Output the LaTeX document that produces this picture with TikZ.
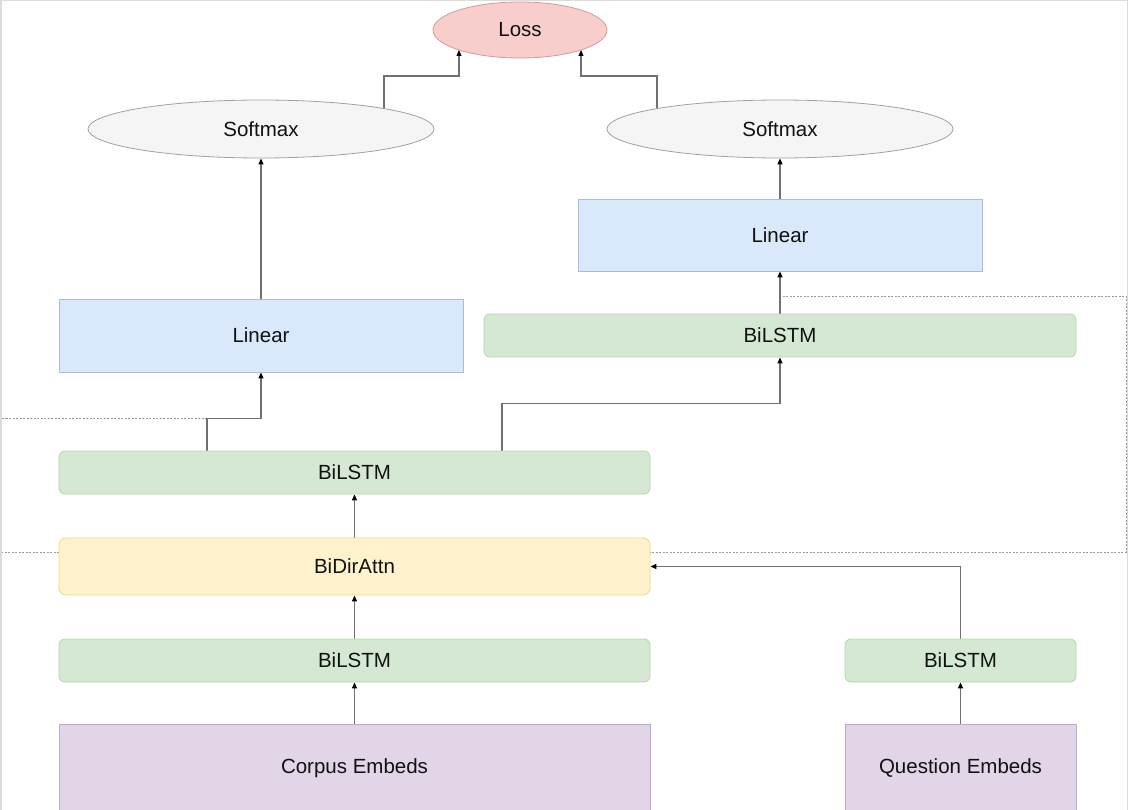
\documentclass[tikz,border=0pt]{standalone}
\usepackage{fontspec}
\setmainfont{Liberation Sans}
\usetikzlibrary{shapes.geometric,arrows.meta,backgrounds}
\definecolor{gfill}{HTML}{D5E8D4}
\definecolor{gline}{HTML}{B5D4A8}
\definecolor{bfill}{HTML}{DAE8FC}
\definecolor{bline}{HTML}{A6BEDD}
\definecolor{yfill}{HTML}{FFF2CC}
\definecolor{yline}{HTML}{EBD690}
\definecolor{pfill}{HTML}{E1D5E7}
\definecolor{pline}{HTML}{BFAACB}
\definecolor{rfill}{HTML}{F8CECC}
\definecolor{rline}{HTML}{D49A98}
\definecolor{efill}{HTML}{F5F5F5}
\definecolor{eline}{HTML}{A0A0A0}
\definecolor{conn}{HTML}{707070}
\definecolor{txt}{HTML}{111111}
\definecolor{frame}{HTML}{DCDCDC}
\definecolor{dotc}{HTML}{999999}
\begin{document}
\begin{tikzpicture}[x=1pt,y=-1pt,
  box/.style={draw, line width=0.8pt, inner sep=0pt, text=txt, font=\fontsize{20.5}{24}\selectfont},
  lstm/.style={box, fill=gfill, draw=gline, rounded corners=6pt, minimum height=43pt},
  lin/.style={box, fill=bfill, draw=bline, minimum width=404pt, minimum height=72pt},
  attnbox/.style={box, fill=yfill, draw=yline, rounded corners=7pt},
  embbox/.style={box, fill=pfill, draw=pline, minimum height=88pt},
  ell/.style={box, ellipse, fill=efill, draw=eline, minimum width=346pt, minimum height=58pt},
  lossell/.style={box, ellipse, fill=rfill, draw=rline, minimum width=174pt, minimum height=56pt},
  arr/.style={draw=conn, line width=1.1pt, -{Triangle[length=6pt,width=5pt,color=black]}},
  dotline/.style={draw=dotc, line width=0.8pt, dash pattern=on 2pt off 1.5pt}]
\useasboundingbox (0,0) rectangle (1128,810);
\clip (0,0) rectangle (1128,810);
\draw[frame, line width=1.5pt] (0.75,810) -- (0.75,0.75) -- (1127.25,0.75) -- (1127.25,810);

% nodes
\node[lossell] (loss) at (520,30) {Loss};
\node[ell] (sml) at (261,129) {Softmax};
\node[ell] (smr) at (780,129) {Softmax};
\node[lin] (linr) at (780,235) {Linear};
\node[lin, minimum height=73pt] (linl) at (261,335.5) {Linear};
\node[lstm, minimum width=592pt] (lstmt) at (780,335.5) {BiLSTM};
\node[lstm, minimum width=591pt] (lstmm) at (354.5,472.5) {BiLSTM};
\node[attnbox, minimum width=591pt, minimum height=57pt] (attn) at (354.5,566.5) {BiDirAttn};
\node[lstm, minimum width=591pt] (lstmb) at (354.5,660.5) {BiLSTM};
\node[lstm, minimum width=231pt] (lstmq) at (960.5,660.5) {BiLSTM};
\node[embbox, minimum width=591pt] (corpus) at (354.5,768) {Corpus Embeds};
\node[embbox, minimum width=231pt] (quest) at (960.5,768) {Question Embeds};

\begin{pgfonlayer}{background}
\coordinate (dA) at ([xshift=-147.5pt, yshift=32pt]lstmm.north);
\coordinate (dB) at ([yshift=61pt]lstmt.south);
\draw[dotline] (dA) -- (dA -| 1,0) -- (1,552) -- (1126,552) -- (1126,0 |- dB) -- (dB);

\draw[arr] (corpus.north) -- (lstmb.south);
\draw[arr] (lstmb.north) -- (attn.south);
\draw[arr] (quest.north) -- (lstmq.south);
\draw[arr] (lstmq.north) |- (attn.east);
\draw[arr] (attn.north) -- (lstmm.south);
\draw[arr] ([xshift=-147.5pt]lstmm.north) -- ++(0,-32) -| (linl.south);
\draw[arr] ([xshift=147.5pt]lstmm.north) -- ++(0,-47) -| (lstmt.south);
\draw[arr] (lstmt.north) -- (linr.south);
\draw[arr] (linr.north) -- (smr.south);
\draw[arr] (linl.north) -- (sml.south);
\draw[arr, shorten >=20pt] ([xshift=123pt]sml.center) -- ++(0,-53) -| ([xshift=-61pt]loss.center);
\draw[arr, shorten >=20pt] ([xshift=-123pt]smr.center) -- ++(0,-53) -| ([xshift=61pt]loss.center);
\end{pgfonlayer}
\end{tikzpicture}
\end{document}
